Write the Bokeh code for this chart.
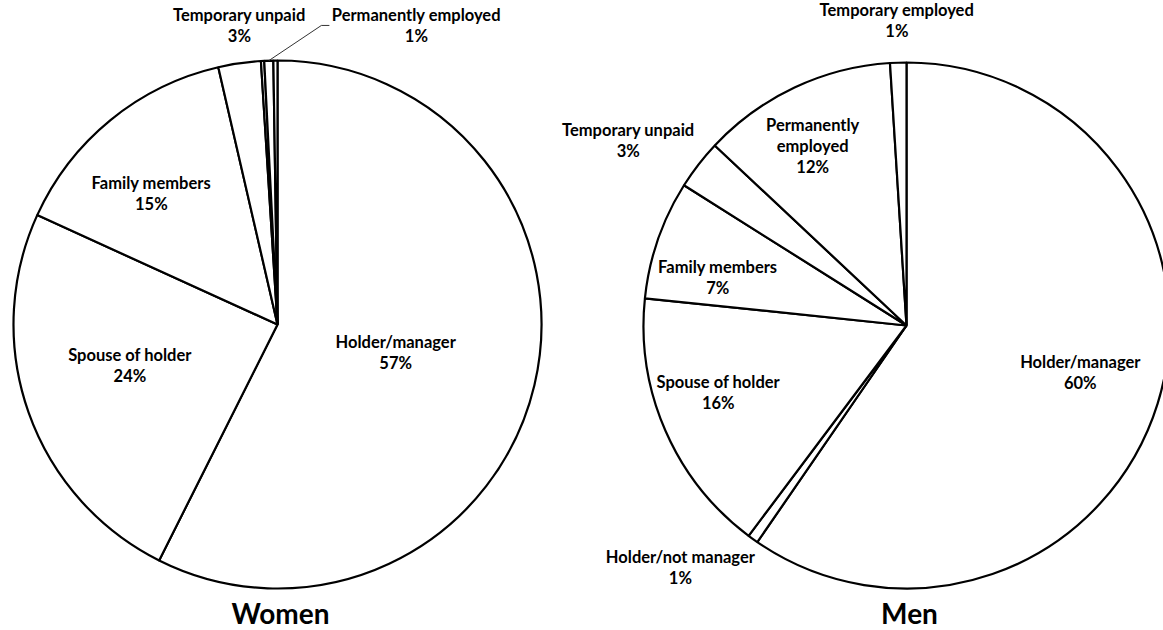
import math
from bokeh.plotting import figure
from bokeh.models import Range1d, ColumnDataSource
from bokeh.embed import file_html
from bokeh.resources import INLINE
from bokeh.core.properties import value

# ---------------- data ----------------
women_categories = ["Holder/manager", "Spouse of holder", "Family members", "Temporary unpaid",
                    "Holder/not manager", "Permanently employed", "Temporary employed"]
women_values = [57.4, 24.4, 14.6, 2.6, 0.2, 0.55, 0.25]
women_label_names = ["Holder/manager", "Spouse of holder", "Family members", "Temporary unpaid",
                     None, "Permanently employed", None]

men_categories = ["Holder/manager", "Holder/not manager", "Spouse of holder", "Family members",
                  "Temporary unpaid", "Permanently employed", "Temporary employed"]
men_values = [59.6, 0.65, 16.4, 7.3, 3.05, 12.0, 1.0]
men_label_names = ["Holder/manager", "Holder/not manager", "Spouse of holder", "Family members",
                   "Temporary unpaid", "Permanently\nemployed", "Temporary employed"]

titles = ["Women", "Men"]

# ---------------- layout (screen-pixel based) ----------------
W, H = 1163, 630
def sy(y):  # screen y -> data y
    return H - y

# label placement: (radius fraction, angle nudge in degrees)
women_label_pos = [(0.46, 0), (0.58, 4), (0.69, -4.6), (1.14, 1), None, (1.249, 26.8), None]
men_label_pos = [(0.685, -2), (1.26, 7.3), (0.76, 3.9), (0.74, -4.9), (1.27, -4.1), (0.77, -2.4), (1.162, 0)]

FONT = "Lato"
LABEL_SIZE = "16.5px"

p = figure(width=W, height=H, x_range=Range1d(0, W), y_range=Range1d(0, H),
           output_backend="svg", toolbar_location=None, min_border=0,
           x_axis_type=None, y_axis_type=None)
p.grid.visible = False
p.outline_line_color = None
p.background_fill_color = "white"
p.border_fill_color = "white"


def draw_pie(cx, cy, r, cats, vals, names, label_pos, title, leader=None):
    total = float(sum(vals))
    cum = 0.0
    starts, ends, mids = [], [], []
    for v in vals:
        a0 = cum / total * 2 * math.pi
        cum += v
        a1 = cum / total * 2 * math.pi
        starts.append(math.pi / 2 - a1)
        ends.append(math.pi / 2 - a0)
        mids.append((a0 + a1) / 2)
    src = ColumnDataSource(dict(start=starts, end=ends, cat=cats))
    p.wedge(x=cx, y=cy, radius=r, start_angle="start", end_angle="end", source=src,
            fill_color="white", line_color="black", line_width=2.2)

    lx, ly, lt = [], [], []
    for i, v in enumerate(vals):
        if label_pos[i] is None or names[i] is None:
            continue
        rf, dang = label_pos[i]
        th = mids[i] + math.radians(dang)
        x = cx + rf * r * math.sin(th)
        y = cy + rf * r * math.cos(th)
        pct = int(math.floor(v / total * 100 + 0.5))
        lx.append(x); ly.append(y); lt.append(f"{names[i]}\n{pct}%")
        if leader is not None and leader[0] == i:
            ax = cx + r * math.sin(mids[i])
            ay = cy + r * math.cos(mids[i])
            p.line([ax, x + leader[1] - 8, x + leader[1]], [ay, y + leader[2], y + leader[2]],
                   line_color="#333333", line_width=1)
    p.text(x=lx, y=ly, text=lt, text_font=value(FONT), text_font_style="bold",
           text_font_size=LABEL_SIZE, text_align="center", text_baseline="middle",
           text_line_height=1.05, text_color="black")
    p.text(x=[cx + 3], y=[sy(612)], text=[title], text_font=value(FONT), text_font_style="bold",
           text_font_size="28px", text_align="center", text_baseline="middle", text_color="black")


draw_pie(277, sy(324), 264, women_categories, women_values, women_label_names,
         women_label_pos, titles[0], leader=(5, -87, 0))
draw_pie(906, sy(325), 263, men_categories, men_values, men_label_names,
         men_label_pos, titles[1])

open("out.html", "w").write(file_html(p, INLINE))
